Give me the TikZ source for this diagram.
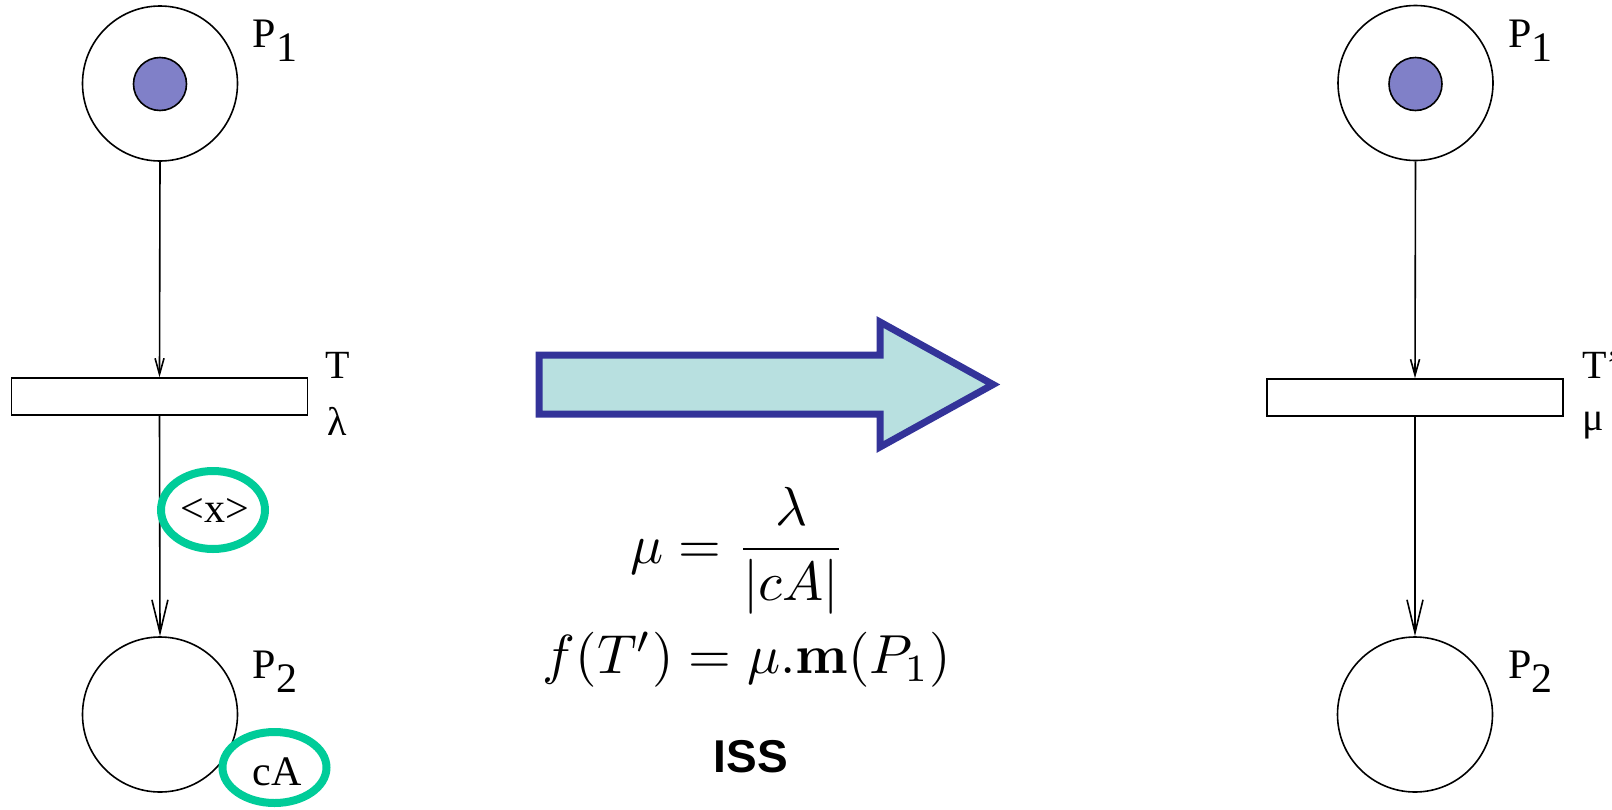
\documentclass[tikz,border=0pt]{standalone}
\usepackage[no-math]{fontspec}
\setmainfont{Liberation Serif}
\newfontfamily\isssans{Liberation Sans}
\usetikzlibrary{arrows.meta,shapes.geometric}
\definecolor{tokenc}{RGB}{128,128,200}
\definecolor{arrfill}{RGB}{184,224,224}
\definecolor{arrline}{RGB}{51,51,153}
\definecolor{greenc}{RGB}{0,204,153}
\tikzset{
  place/.style={circle,draw=black,line width=0.8pt,minimum size=77.5pt,inner sep=0pt},
  tokenst/.style={circle,draw=black,line width=0.8pt,fill=tokenc,minimum size=26.5pt,inner sep=0pt},
  trans/.style={rectangle,draw=black,line width=0.8pt,minimum width=148pt,minimum height=18.5pt,inner sep=0pt},
  arcsmall/.style={line width=0.8pt,-{Straight Barb[length=8pt,width=4.5pt]}},
  arcbig/.style={line width=0.8pt,-{Straight Barb[length=16.5pt,width=8pt]}},
  greenell/.style={ellipse,draw=greenc,fill=white,line width=4pt,inner sep=0pt},
  plbl/.style={anchor=base west,inner sep=0pt,font=\fontsize{21}{25}\selectfont},
  tlbl/.style={anchor=base west,inner sep=0pt,font=\fontsize{20}{24}\selectfont},
  inlbl/.style={anchor=base,inner sep=0pt,font=\fontsize{21}{25}\selectfont},
  bigarrow/.style={draw=arrline,fill=arrfill,line width=3.5pt,line join=miter,miter limit=10}
}
\begin{document}
\begin{tikzpicture}[x=0.5pt,y=-0.5pt]
\useasboundingbox (0,0) rectangle (1612,809);

% ---- left net ----
\node[place] (lp1) at (160,83.5) {};
\node[tokenst] (ltok) at (160,84) {};
\node[trans] (lt) at (159.5,396.5) {};
\node[place] (lp2) at (160,714.5) {};
\draw[arcsmall] (lp1.south) -- (lt.north);
\draw[arcbig] (lt.south) -- (lp2.north);
\node[plbl] (lp1lab) at (252.5,47) {P\raisebox{-7pt}{1}};
\node[plbl] (lp2lab) at (252.5,678) {P\raisebox{-7pt}{2}};
\node[tlbl] (ltlab) at (325,378) {T};
\node[tlbl] (llam) at (327,435) {λ};
\node[greenell,minimum width=52pt,minimum height=39pt] (xell) at (213,510) {};
\node[inlbl] (xlab) at (214.5,522) {<x>};
\node[greenell,minimum width=52pt,minimum height=35.5pt] (caell) at (274.5,767.5) {};
\node[inlbl] (calab) at (277,785) {cA};

% ---- big arrow ----
\coordinate (a1) at (539,355);
\coordinate (a2) at (880,355);
\coordinate (a3) at (880,322);
\coordinate (a4) at (993,384.5);
\coordinate (a5) at (880,447);
\coordinate (a6) at (880,414);
\coordinate (a7) at (539,414);
\draw[bigarrow] (a1) -- (a2) -- (a3) -- (a4) -- (a5) -- (a6) -- (a7) -- cycle;

% ---- formulas ----
\node[anchor=base,inner sep=0pt] (f1) at (738,563) {\scalebox{2.75}{$\displaystyle \mu = \frac{\lambda}{|cA|}$}};
\node[anchor=base,inner sep=0pt] (f2) at (747,673) {\scalebox{2.75}{$f(T') = \mu.\mathbf{m}(P_1)$}};
\node[anchor=base,inner sep=0pt] (iss) at (751,772) {\isssans\bfseries\fontsize{23}{27}\selectfont ISS};

% ---- right net ----
\node[place] (rp1) at (1415.5,83) {};
\node[tokenst] (rtok) at (1415.5,84) {};
\node[trans] (rt) at (1415,397.5) {};
\node[place] (rp2) at (1415,714.5) {};
\draw[arcsmall] (rp1.south) -- (rt.north);
\draw[arcbig] (rt.south) -- (rp2.north);
\node[plbl] (rp1lab) at (1508,47) {P\raisebox{-7pt}{1}};
\node[plbl] (rp2lab) at (1508,678) {P\raisebox{-7pt}{2}};
\node[tlbl] (rtlab) at (1582,378) {T’};
\node[tlbl] (rmu) at (1582,430) {μ};
\end{tikzpicture}
\end{document}
